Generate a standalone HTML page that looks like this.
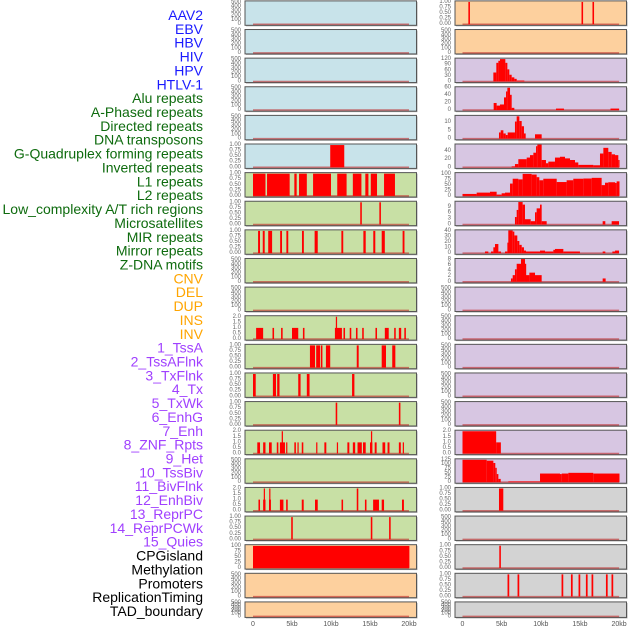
<!DOCTYPE html>
<html><head><meta charset="utf-8">
<style>
html,body{margin:0;padding:0;background:#fff;}
svg{display:block;font-family:"Liberation Sans",sans-serif;}
</style></head>
<body>
<svg id="chart" width="630" height="630" viewBox="0 0 630 630" xmlns="http://www.w3.org/2000/svg"></svg>
<script>
// ---- data ----
const trackNames = ["AAV2","EBV","HBV","HIV","HPV","HTLV-1","Alu repeats","A-Phased repeats","Directed repeats","DNA transposons","G-Quadruplex forming repeats","Inverted repeats","L1 repeats","L2 repeats","Low_complexity A/T rich regions","Microsatellites","MIR repeats","Mirror repeats","Z-DNA motifs","CNV","DEL","DUP","INS","INV","1_TssA","2_TssAFlnk","3_TxFlnk","4_Tx","5_TxWk","6_EnhG","7_Enh","8_ZNF_Rpts","9_Het","10_TssBiv","11_BivFlnk","12_EnhBiv","13_ReprPC","14_ReprPCWk","15_Quies","CPGisland","Methylation","Promoters","ReplicationTiming","TAD_boundary"];
const groupOf = ["v","v","v","v","v","v","r","r","r","r","r","r","r","r","r","r","r","r","r","s","s","s","s","s","c","c","c","c","c","c","c","c","c","c","c","c","c","c","c","o","o","o","o","o"];
const xTicks = [0,5,10,15,20];
const xTickLabels = ["0","5kb","10kb","15kb","20kb"];
// tick types: e=empty(0..500), u=0..1, t=0..2, else custom
const tickType = ["e","e","e","e","e","u","u","u","u","e","e","t","u","u","u","t","e","t","u","c100","e","e","u","e","c120","c60","c10","c40","c100","c9","c40b","c8","e","e","e","e","e","t","c125","u","e","u","u","e"];
const seg_HTLV1 = [[9.9,11.7,1]];
const seg_Alu = [[0,1.6,1],[1.8,4.7,1],[5.3,5.6,1],[5.9,6.9,1],[7.7,10.0,1],[10.8,12.0,1],[12.8,13.9,1],[14.4,14.8,1],[15.1,15.9,1],[16.8,18.2,1]];
const seg_APhased = [[13.75,13.95,1],[16.2,16.4,1]];
const seg_Directed = [[0.65,0.9,1],[1.25,1.5,1],[1.95,2.45,1],[3.48,3.72,1],[4.28,4.52,1],[6.28,6.52,1],[7.9,8.3,1],[11.33,11.57,1],[14.15,14.45,1],[15.42,15.68,1],[16.5,16.9,1],[19.18,19.42,1]];
const seg_Inverted = [[0.4,1.3,1],[2.5,2.7,1],[3.6,3.8,1],[5.0,5.8,1],[6.4,6.6,1],[10.5,11.4,1],[10.62,10.78,2],[11.6,11.8,1],[12.4,12.6,1],[13.2,13.4,1],[14.0,14.2,1],[15.7,15.9,1],[16.9,17.4,1],[18.1,18.3,1],[18.7,19.0,1],[19.4,19.6,1]];
const seg_L1 = [[7.3,7.95,1],[8.1,8.6,1],[8.7,8.9,1],[9.35,9.9,1],[13.3,13.55,1],[16.5,17.05,1],[17.85,18.25,1]];
const seg_L2 = [[0,0.35,1],[2.55,2.95,1],[3.1,3.4,1],[5.8,6.1,1],[6.9,7.25,1],[12.7,13.0,1]];
const seg_LowCx = [[10.6,10.8,1],[18.7,18.9,1]];
const seg_Microsat = [[0.55,0.9,1],[1.3,1.6,1],[2.05,2.4,1],[3.05,3.25,1],[3.45,4.1,1],[3.68,3.84,2],[4.25,4.4,1],[5.3,5.5,1],[5.7,5.85,1],[6.25,6.45,1],[8.1,8.25,1],[9.15,9.4,1],[10.75,10.9,1],[12.1,12.35,1],[12.8,13.1,1],[13.4,13.95,1],[14.1,14.45,1],[15.0,15.3,1],[15.12,15.28,2],[15.6,15.85,1],[16.6,16.95,1],[17.25,17.5,1],[18.7,18.95,1],[19.2,19.35,1]];
const seg_Mirror = [[0.7,0.9,1],[1.3,1.6,1],[1.38,1.52,2],[2.05,2.3,1],[2.08,2.22,2],[3.45,3.9,1],[4.25,4.45,1],[6.25,6.5,1],[7.95,8.3,1],[11.35,11.55,1],[13.3,13.5,2],[14.35,14.55,1],[15.4,16.15,1],[16.5,16.8,1],[19.1,19.35,1]];
const seg_ZDNA = [[4.9,5.1,1],[15.1,15.3,1],[17.45,17.65,1]];
const seg_CNV = [[0,20.05,100]];
const seg_INS = [[0.75,0.95,1],[15.2,15.4,1],[16.6,16.8,1]];
const seg_TssA = [[3.94,4.32,48],[4.32,4.58,100],[4.58,4.79,111],[4.79,5.47,120],[5.47,5.73,100],[5.73,5.98,65],[5.98,6.28,36],[6.28,6.62,22],[6.62,6.92,14],[6.92,7.9,5]];
const seg_TssAFlnk = [[3.98,4.36,19],[4.36,4.79,12],[4.79,5.3,15],[5.3,5.56,34],[5.56,5.73,50],[5.73,6.07,60],[6.07,6.28,41],[6.28,6.62,6],[11.94,12.96,4],[18.9,20.0,4]];
const seg_TxFlnk = [[4.66,4.88,3.7],[4.88,5.22,5],[5.22,5.52,3.1],[5.52,5.77,2.2],[5.77,6.7,3.7],[6.7,6.92,10.2],[6.92,7.26,13.3],[7.26,7.56,10.5],[7.56,7.85,7.4],[7.85,8.07,3.1],[9.26,10.11,2.6]];
const seg_Tx = [[6.28,6.7,2.4],[6.7,7.13,8],[7.13,8.2,20],[8.2,8.62,24],[8.62,9.05,30],[9.05,9.39,36],[9.39,9.56,52],[9.56,10.11,56],[10.11,10.66,18],[10.66,10.96,10],[10.96,11.81,14],[11.81,12.45,24],[12.45,13.09,26],[13.09,13.73,22],[13.73,14.37,18],[14.37,14.79,12],[14.79,16.71,6],[16.71,17.56,5],[17.56,17.99,34],[17.99,18.62,48],[18.62,19.05,38],[19.05,19.48,32],[19.48,19.9,30],[19.9,20.05,18]];
const seg_TxWk = [[0,1.81,9],[1.81,3.51,15],[3.51,4.36,19],[4.36,5.0,6],[5.0,5.43,12],[5.43,6.07,15],[6.07,6.41,56],[6.41,7.13,78],[7.13,7.68,75],[7.68,8.83,100],[8.83,9.47,97],[9.47,9.81,85],[9.81,10.32,71],[10.32,12.03,78],[12.03,13.3,63],[13.3,14.15,71],[14.15,15.43,78],[15.43,16.5,79],[16.5,17.77,82],[17.77,18.2,49],[18.2,18.62,60],[18.62,19.48,62],[19.48,19.69,59],[19.69,20.05,66]];
const seg_EnhG = [[6.7,6.92,3.8],[6.92,7.13,7.4],[7.13,7.68,11.4],[7.68,7.98,10.1],[7.98,8.71,2.7],[8.71,9.26,1.7],[9.26,9.47,6.2],[9.47,9.9,8.2],[9.9,10.11,10.1],[10.11,10.75,1.7],[17.9,18.24,1.7],[19.05,19.99,1.7]];
const seg_Enh = [[2.87,3.3,3],[3.64,3.94,3],[3.94,4.15,10.6],[4.15,4.58,16.5],[4.58,4.92,3],[5.43,5.73,3],[5.73,5.85,19],[5.85,6.41,41],[6.41,6.62,39],[6.62,7.0,32],[7.0,7.26,22],[7.26,7.56,15],[7.56,7.85,10.6],[7.85,8.11,4.7],[8.11,9.9,3],[9.9,10.54,4.7],[10.54,11.6,3],[11.6,11.81,6],[11.81,12.88,7.6],[12.88,15.0,3],[17.9,18.24,3],[19.14,19.48,3],[19.48,19.99,4.7]];
const seg_ZNF = [[6.19,6.41,1.2],[6.41,6.7,2.4],[6.7,6.92,4.5],[6.92,7.47,6.5],[7.47,7.98,8.2],[7.98,8.11,6.5],[8.11,8.54,2.4],[8.54,9.26,3.3],[9.26,10.11,2.4],[17.9,18.28,1.2]];
const seg_ReprPCWk = [[0,4.3,2],[4.3,4.9,1]];
const seg_Quies = [[0,3.09,125],[3.09,3.94,120],[3.94,4.19,107],[4.19,4.37,80],[4.37,4.58,45],[4.58,4.88,18],[5.85,9.9,4],[9.9,12.45,48],[12.45,12.67,45],[12.67,13.52,48],[13.52,16.7,52],[16.7,20.05,48]];
const seg_CPG = [[4.66,5.21,1]];
const seg_Promoters = [[4.7,4.9,1]];
const seg_RepTiming = [[5.75,5.97,1],[7.03,7.25,1],[12.65,12.87,1],[13.85,14.07,1],[14.82,15.04,1],[15.76,15.98,1],[16.48,16.7,1],[18.32,18.54,1],[19.03,19.25,1]];
const trackSegs = {"HTLV-1":seg_HTLV1,"Alu repeats":seg_Alu,"A-Phased repeats":seg_APhased,"Directed repeats":seg_Directed,"Inverted repeats":seg_Inverted,"L1 repeats":seg_L1,"L2 repeats":seg_L2,"Low_complexity A/T rich regions":seg_LowCx,"Microsatellites":seg_Microsat,"Mirror repeats":seg_Mirror,"Z-DNA motifs":seg_ZDNA,"CNV":seg_CNV,"INS":seg_INS,"1_TssA":seg_TssA,"2_TssAFlnk":seg_TssAFlnk,"3_TxFlnk":seg_TxFlnk,"4_Tx":seg_Tx,"5_TxWk":seg_TxWk,"6_EnhG":seg_EnhG,"7_Enh":seg_Enh,"8_ZNF_Rpts":seg_ZNF,"14_ReprPCWk":seg_ReprPCWk,"15_Quies":seg_Quies,"CPGisland":seg_CPG,"Promoters":seg_Promoters,"ReplicationTiming":seg_RepTiming};

// ---- style / layout ----
const labelColor = {v:"#1a1aff",r:"#0e6b0e",s:"#ffa500",c:"#a040ff",o:"#000"};
const leftBg = {v:"#c8e3ea",r:"#c8e0a5",s:"#fdd09e"};
const rightBg = {s:"#fdd09e",c:"#d7c6e2",o:"#d3d3d3"};
const tickSets = {
  e:{t:[0,100,200,300,400,500],max:520,d:0},
  u:{t:[0,0.25,0.5,0.75,1],max:1.02,d:2},
  t:{t:[0,0.5,1,1.5,2],max:2.04,d:1},
  c100:{t:[0,25,50,75,100],max:103,d:0},
  c120:{t:[0,30,60,90,120],max:122,d:0},
  c60:{t:[0,20,40,60],max:61,d:0},
  c10:{t:[0,5,10],max:13.5,d:0},
  c40:{t:[0,20,40],max:56,d:0},
  c9:{t:[0,3,6,9],max:11.5,d:0},
  c40b:{t:[0,10,20,30,40],max:41,d:0},
  c8:{t:[0,2,4,6,8],max:8.2,d:0},
  c125:{t:[0,25,50,75,100,125],max:127,d:0}
};
const NS="http://www.w3.org/2000/svg";
const svg=document.getElementById("chart");
function mk(tag,attrs,parent){const e=document.createElementNS(NS,tag);for(const k in attrs)e.setAttribute(k,attrs[k]);(parent||svg).appendChild(e);return e;}

// labels
trackNames.forEach((n,k)=>{
  const t=mk("text",{x:203,y:15+k*13.86,"text-anchor":"end","dominant-baseline":"central","font-size":"14",fill:labelColor[groupOf[k]]});
  t.textContent=n;
  
  
});

const cols=[{px0:245,px1:416.5,x0:253,sc:7.8,tx:241},{px0:455,px1:626.5,x0:462.5,sc:7.83,tx:451}];
trackNames.forEach((n,k)=>{
  const c=k<22?0:1, r=k%22, col=cols[c];
  const top=0.9+r*28.62, h=(r===21)?15.5:24.4;
  const y0=top+h-1.1, yTop=top+0.6;
  const ts=tickSets[tickType[k].startsWith("c")||tickType[k].length>1?tickType[k]:tickType[k]];
  const yS=v=>y0-(v/ts.max)*(y0-yTop);
  const xS=kb=>col.x0+kb*col.sc;
  const g=mk("g",{});
  
  
  mk("rect",{x:col.px0+1,y:top+1,width:col.px1-col.px0,height:h,fill:"#aaa"},g);
  const bg=mk("rect",{x:col.px0,y:top,width:col.px1-col.px0,height:h,fill:(c===0?leftBg:rightBg)[groupOf[k]],stroke:"#555","stroke-width":1},g);
  
  
  ts.t.forEach(v=>{
    const tl=mk("text",{x:col.tx,y:yS(v),"text-anchor":"end","dominant-baseline":"central","font-size":"6",fill:"#666"},g);
    tl.textContent=v.toFixed(ts.d);
    
    
  });
  const bl=mk("line",{x1:xS(0),x2:xS(20),y1:y0,y2:y0,stroke:"rgba(190,40,40,0.6)","stroke-width":1.5},g);
  
  
  (trackSegs[n]||[]).forEach(s=>{
    const b=mk("rect",{x:xS(s[0]),y:yS(s[2]),width:Math.max(1.2,xS(s[1])-xS(s[0])),height:y0-yS(s[2]),fill:"#ff0000"},g);
    
    
  });
});
// x axes
cols.forEach(col=>{
  xTicks.forEach((v,i)=>{
    const t=mk("text",{x:col.x0+v*col.sc,y:626,"text-anchor":"middle","font-size":"7",fill:"#555"});
    t.textContent=xTickLabels[i];
    
    
  });
});
</script>
</body></html>
